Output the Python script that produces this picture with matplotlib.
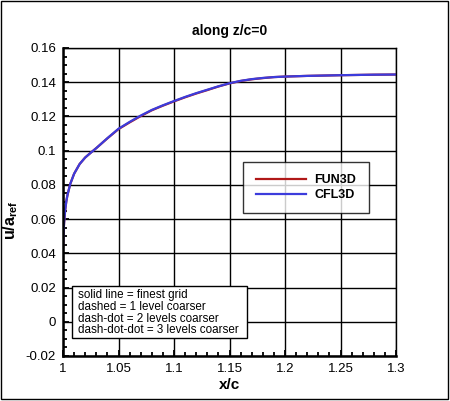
import matplotlib
matplotlib.use('Agg')
import matplotlib.pyplot as plt
from matplotlib.patches import Rectangle
from matplotlib.ticker import MultipleLocator, FuncFormatter

plt.rcParams['font.family'] = ['Liberation Sans', 'DejaVu Sans']
plt.rcParams['mathtext.fontset'] = 'custom'
plt.rcParams['mathtext.bf'] = 'Liberation Sans:bold'
plt.rcParams['mathtext.rm'] = 'Liberation Sans'
plt.rcParams['axes.unicode_minus'] = False

# values
x_cfl = [1.0, 1.0005, 1.001, 1.002, 1.003, 1.004, 1.0065, 1.01, 1.015, 1.02, 1.025,
         1.03, 1.04, 1.05, 1.06, 1.07, 1.08, 1.09, 1.1, 1.11, 1.12, 1.13, 1.14,
         1.15, 1.16, 1.17, 1.18, 1.19, 1.2, 1.22, 1.25, 1.28, 1.3]
u_cfl = [0.044, 0.052, 0.058, 0.0655, 0.0705, 0.074, 0.0805, 0.0865, 0.0922, 0.096, 0.0988,
         0.1015, 0.1073, 0.1128, 0.1168, 0.1205, 0.1238, 0.1265, 0.129, 0.1314, 0.1336, 0.1356, 0.1376,
         0.1394, 0.1408, 0.1418, 0.1425, 0.1430, 0.1433, 0.1437, 0.1441, 0.1444, 0.1445]
x_fun = x_cfl
u_fun = [0.044, 0.052, 0.058, 0.0655, 0.0705, 0.074, 0.0805, 0.0865, 0.0922, 0.096, 0.0988,
         0.1015, 0.1072, 0.1126, 0.1165, 0.1202, 0.1236, 0.1263, 0.1288, 0.1312, 0.1334, 0.1354, 0.1375,
         0.1393, 0.1407, 0.1417, 0.1424, 0.1430, 0.1433, 0.1437, 0.1441, 0.1444, 0.1445]

x_ticks = [1.0, 1.05, 1.1, 1.15, 1.2, 1.25, 1.3]
y_ticks = [-0.02, 0, 0.02, 0.04, 0.06, 0.08, 0.1, 0.12, 0.14, 0.16]
note_lines = ['solid line = finest grid',
              'dashed = 1 level coarser',
              'dash-dot = 2 levels coarser',
              'dash-dot-dot = 3 levels coarser']

W, H = 450, 401
fig = plt.figure(figsize=(W / 100, H / 100), dpi=100)
ax = fig.add_axes([63 / W, (H - 356) / H, 333 / W, 308 / H])

ax.plot(x_fun, u_fun, color='#b01818', lw=1.6, label='FUN3D')
ax.plot(x_cfl, u_cfl, color='#3c3cdc', lw=1.6, label='CFL3D')

ax.set_xlim(1.0, 1.3)
ax.set_ylim(-0.02, 0.16)
ax.set_xticks(x_ticks)
ax.set_yticks(y_ticks)
ax.xaxis.set_minor_locator(MultipleLocator(0.01))
ax.yaxis.set_minor_locator(MultipleLocator(0.005))
fmt = FuncFormatter(lambda v, p: '%g' % round(v, 4))
ax.xaxis.set_major_formatter(fmt)
ax.yaxis.set_major_formatter(fmt)
ax.grid(True, which='major', color='black', lw=1.0)
ax.tick_params(which='both', direction='in', top=False, right=False,
               labelsize=9.5, width=1.3, pad=5)
ax.tick_params(which='major', length=4.3)
ax.tick_params(which='minor', length=2.8)
for s in ['left', 'bottom']:
    ax.spines[s].set_linewidth(1.8)
for s in ['top', 'right']:
    ax.spines[s].set_linewidth(1.0)

ax.set_title('along z/c=0', fontsize=10, fontweight='bold', pad=9)
ax.set_xlabel('x/c', fontsize=11, fontweight='bold', labelpad=2)
ax.set_ylabel(r'$\mathbf{u/a_{ref}}$', fontsize=11.5)
ax.yaxis.set_label_coords(-0.128, 0.44)

leg = ax.legend(loc='upper left', bbox_to_anchor=(243 / W, 1 - 162 / H),
                bbox_transform=fig.transFigure, borderaxespad=0,
                prop={'weight': 'bold', 'size': 9}, frameon=True, fancybox=False,
                handlelength=4.0, handletextpad=0.7, labelspacing=0.2, borderpad=1.0)
leg.get_frame().set_edgecolor('black')
leg.get_frame().set_linewidth(1.0)

# note box
fig.patches.append(Rectangle((72 / W, 1 - 338 / H), 175 / W, 52 / H, transform=fig.transFigure,
                             facecolor='white', edgecolor='black', lw=1.0, zorder=5))
for i, line in enumerate(note_lines):
    fig.text(77.5 / W, 1 - (295 + i * 11.8) / H, line, fontsize=8.4, va='center', zorder=6)

fig.patches.append(Rectangle((0.5 / W, 1 - 398.5 / H), 447.5 / W, 398 / H, transform=fig.transFigure,
                             fill=False, edgecolor='black', lw=1.0))

fig.savefig('out.png', dpi=100)
